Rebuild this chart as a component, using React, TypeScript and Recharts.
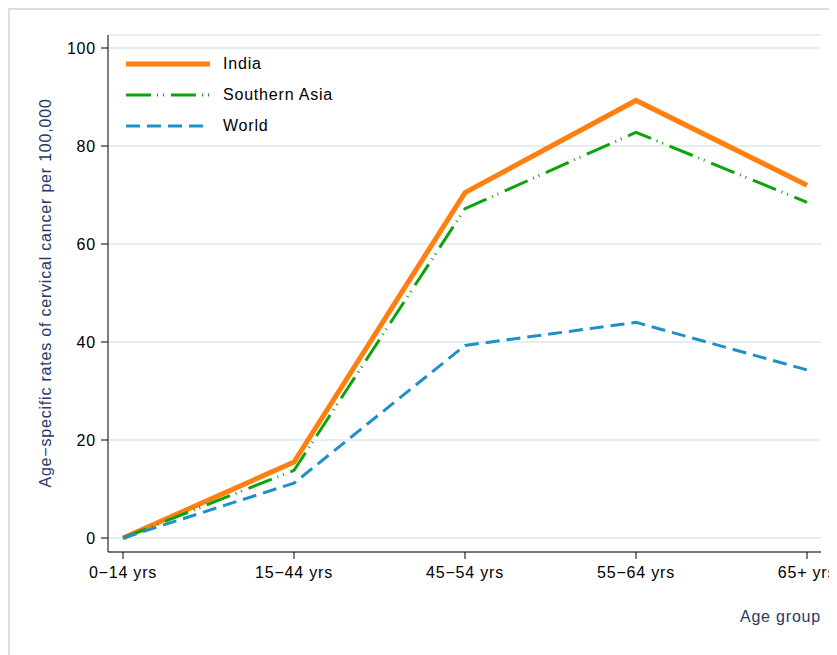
import React from 'react';
import {
  LineChart, Line, XAxis, YAxis, CartesianGrid, Legend, Label
} from 'recharts';

// valeurs
const categories = ['0−14 yrs', '15−44 yrs', '45−54 yrs', '55−64 yrs', '65+ yrs'];
const india = [0, 15.5, 70.5, 89.3, 72];
const southernAsia = [0, 13.8, 67.2, 82.8, 68.5];
const world = [0, 11.2, 39.3, 44, 34.3];
const yTicks = [0, 20, 40, 60, 80, 100];

const data = categories.map((age, i) => ({
  age,
  india: india[i],
  southernAsia: southernAsia[i],
  world: world[i],
}));

const SERIES = [
  { key: 'india', name: 'India', color: '#ff7f11', width: 5, dash: undefined },
  { key: 'southernAsia', name: 'Southern Asia', color: '#0ca30c', width: 3, dash: '25 6 1 5 1 7' },
  { key: 'world', name: 'World', color: '#1e90c8', width: 3, dash: '14 7' },
];

const FONT = '"Liberation Sans", Arial, Helvetica, sans-serif';
const NAVY = '#283a66';
const SPACING = 0.8;

function LegendBox() {
  return (
    <div style={{ fontFamily: FONT, fontSize: 16, letterSpacing: SPACING, color: '#000' }}>
      {SERIES.map((s) => (
        <div key={s.key} style={{ display: 'flex', alignItems: 'center', height: 31 }}>
          <svg width={84} height={10} style={{ display: 'block' }}>
            <line
              x1={0} y1={5} x2={84} y2={5}
              stroke={s.color}
              strokeWidth={s.width}
              strokeDasharray={s.dash}
            />
          </svg>
          <span style={{ marginLeft: 13 }}>{s.name}</span>
        </div>
      ))}
    </div>
  );
}

export default function App() {
  return (
    <div style={{ position: 'relative', width: 829, height: 647 }}>
      <div
        style={{
          position: 'absolute', left: 0, top: 0, right: 0, bottom: 0,
          borderTop: '2px solid #dcdcdc', borderLeft: '2px solid #dcdcdc',
        }}
      />
      <div style={{ position: 'absolute', left: 0, top: 0 }}>
        <LineChart
          width={829}
          height={640}
          data={data}
          margin={{ top: 27, right: 16, left: 0, bottom: 0 }}
          style={{ fontFamily: FONT }}
        >
          <CartesianGrid vertical={false} stroke="#e6eef0" strokeWidth={2} />
          <XAxis
            dataKey="age"
            height={96}
            padding={{ left: 15, right: 14 }}
            stroke="#000"
            tickSize={7}
            tickMargin={8}
            tick={{ fill: '#000', fontSize: 16, letterSpacing: SPACING }}
            interval={0}
          >
            <Label
              content={({ viewBox }: any) => (
                <text
                  x={viewBox.x + viewBox.width}
                  y={viewBox.y + 70}
                  textAnchor="end"
                  fill={NAVY}
                  fontSize={16}
                  letterSpacing={SPACING}
                >
                  Age group
                </text>
              )}
            />
          </XAxis>
          <YAxis
            width={100}
            domain={[0, 100]}
            ticks={yTicks}
            padding={{ top: 13, bottom: 14 }}
            stroke="#000"
            tickSize={7}
            tickMargin={5}
            tick={{ fill: '#000', fontSize: 16, letterSpacing: SPACING }}
          >
            <Label
              content={() => (
                <text
                  x={0}
                  y={0}
                  transform="translate(43,285) rotate(-90)"
                  textAnchor="middle"
                  fill={NAVY}
                  fontSize={16}
                  letterSpacing={SPACING}
                >
                  Age−specific rates of cervical cancer per 100,000
                </text>
              )}
            />
          </YAxis>
          <Legend
            content={() => <LegendBox />}
            layout="vertical"
            verticalAlign="middle"
            align="center"
            wrapperStyle={{ left: 118, top: 40, width: 'auto' }}
          />
          {SERIES.map((s) => (
            <Line
              key={s.key}
              type="linear"
              dataKey={s.key}
              name={s.name}
              stroke={s.color}
              strokeWidth={s.width}
              strokeDasharray={s.dash}
              dot={false}
              activeDot={false}
              isAnimationActive={false}
            />
          ))}
        </LineChart>
      </div>
    </div>
  );
}
